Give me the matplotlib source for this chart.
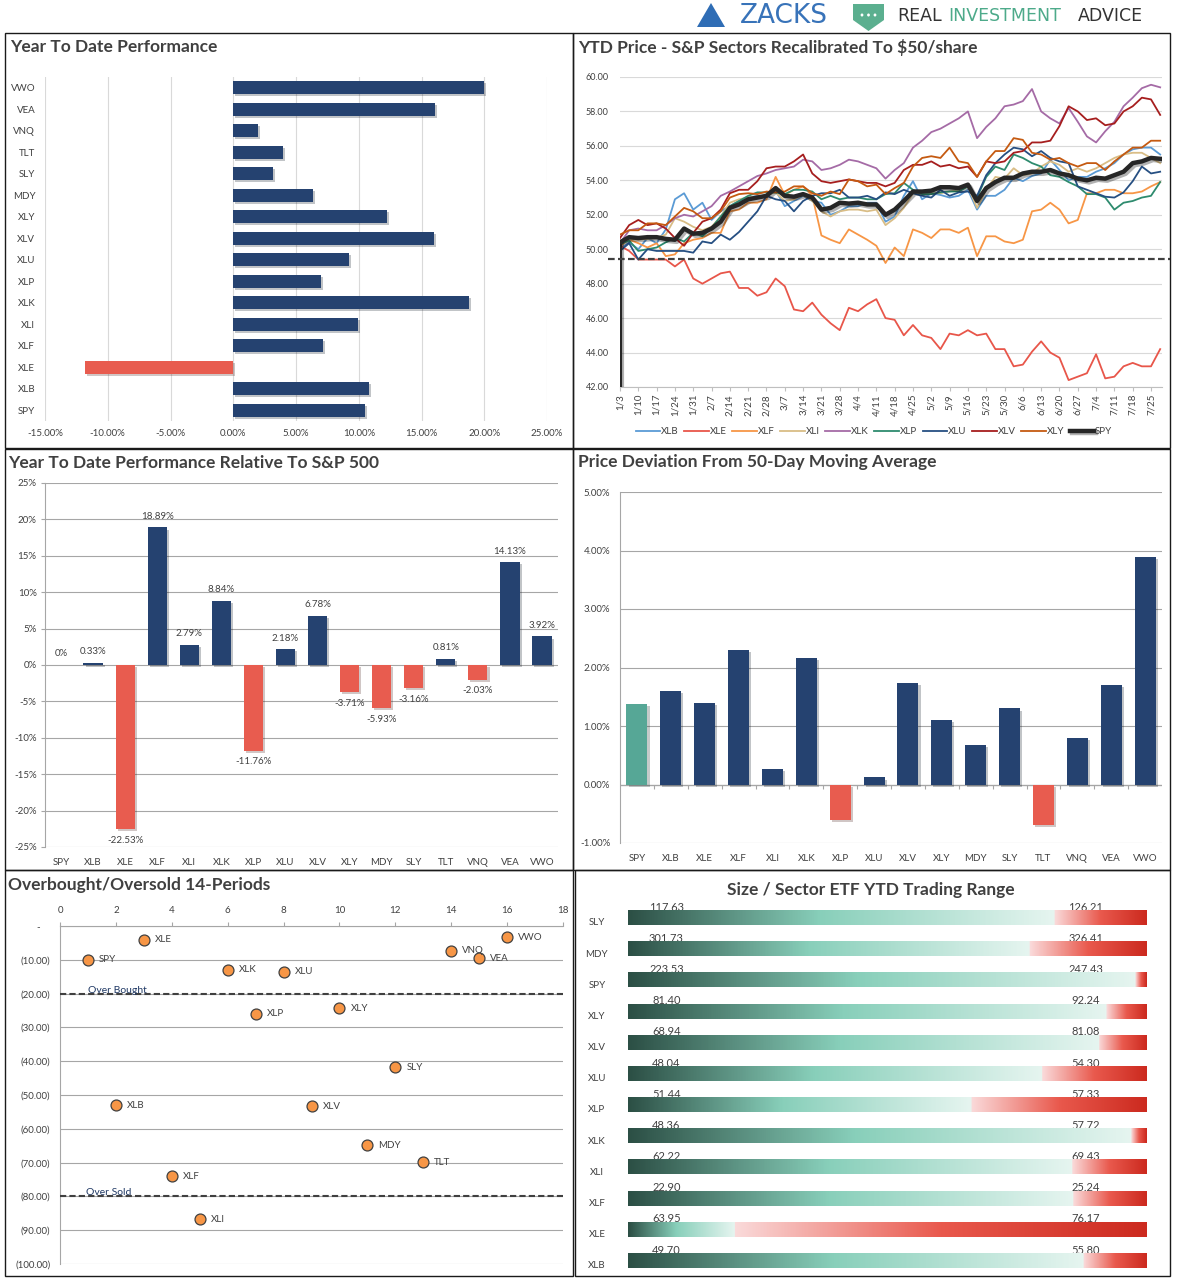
import numpy as np
import matplotlib
matplotlib.use("Agg")
import matplotlib.pyplot as plt
import matplotlib.patheffects as pe
from matplotlib.patches import Rectangle, Polygon, Circle
from matplotlib.colors import LinearSegmentedColormap

plt.rcParams['font.family'] = ['Lato', 'DejaVu Sans']

W, H = 1178, 1284
fig = plt.figure(figsize=(W / 100, H / 100), dpi=100)

NAVY = '#254270'
RED = '#E85C4F'
TXT = '#404040'

# ---------------- data ----------------
tickers = ['SPY', 'XLB', 'XLE', 'XLF', 'XLI', 'XLK', 'XLP', 'XLU',
           'XLV', 'XLY', 'MDY', 'SLY', 'TLT', 'VNQ', 'VEA', 'VWO']

# YTD performance (%)
ytd_perf = [10.47, 10.79, -11.84, 7.13, 9.91, 18.77, 6.96, 9.21,
            15.96, 12.22, 6.35, 3.13, 3.95, 1.96, 16.05, 20.0]

# relative to S&P 500 (%)
rel_perf = [0, 0.33, -22.53, 18.89, 2.79, 8.84, -11.76, 2.18,
            6.78, -3.71, -5.93, -3.16, 0.81, -2.03, 14.13, 3.92]

# deviation from 50 dma (%)
dev_50 = [1.38, 1.60, 1.40, 2.30, 0.26, 2.16, -0.61, 0.12,
          1.74, 1.11, 0.68, 1.30, -0.69, 0.80, 1.70, 3.89]

# overbought / oversold
osc_x = [1, 2, 3, 4, 5, 6, 7, 8, 9, 10, 11, 12, 13, 14, 15, 16]
osc_y = [-10.0, -53.0, -4.1, -74.0, -86.8, -12.9, -25.9, -13.5,
         -53.3, -24.3, -64.9, -41.8, -69.9, -7.3, -9.6, -3.4]

# trading range
range_names = ['SLY', 'MDY', 'SPY', 'XLY', 'XLV', 'XLU', 'XLP', 'XLK', 'XLI', 'XLF', 'XLE', 'XLB']
range_low = [117.63, 301.73, 223.53, 81.40, 68.94, 48.04, 51.44, 48.36, 62.22, 22.90, 63.95, 49.70]
range_high = [126.21, 326.41, 247.43, 92.24, 81.08, 54.30, 57.33, 57.72, 69.43, 25.24, 76.17, 55.80]
range_pos = [0.823, 0.775, 0.979, 0.923, 0.908, 0.799, 0.662, 0.971, 0.857, 0.859, 0.206, 0.879]

# YTD price, recalibrated to $50 (read every half week)
date_labels = ['1/3', '1/10', '1/17', '1/24', '1/31', '2/7', '2/14', '2/21', '2/28', '3/7',
               '3/14', '3/21', '3/28', '4/4', '4/11', '4/18', '4/25', '5/2', '5/9', '5/16',
               '5/23', '5/30', '6/6', '6/13', '6/20', '6/27', '7/4', '7/11', '7/18', '7/25']
weeks = np.arange(0, 30, 0.5)
spy_base = 42.0
px_XLB = [50.0, 50.4, 50.0, 50.65, 50.35, 51.15, 52.9, 53.25, 52.3, 52.7, 51.7, 52.2, 52.5, 52.8, 53.0,
          53.1, 53.1, 53.4, 52.5, 52.8, 53.1, 52.8, 52.7, 52.0, 52.2, 52.5, 52.5, 52.7, 52.7, 51.6,
          51.9, 53.1, 53.95, 52.9, 53.25, 53.15, 53.0, 53.1, 53.45, 52.3, 53.1, 53.1, 53.45, 54.15, 53.95,
          54.25, 54.4, 55.2, 54.6, 54.0, 54.2, 54.2, 54.5, 54.7, 55.0, 55.5, 55.8, 55.9, 55.9, 55.5]
px_XLE = [50.2, 49.9, 49.4, 49.4, 49.4, 49.4, 49.0, 49.4, 48.3, 48.0, 48.3, 48.6, 48.7, 47.75, 47.75,
          47.3, 47.5, 48.3, 47.85, 46.5, 46.4, 46.9, 46.2, 45.7, 45.3, 46.6, 46.4, 46.8, 47.1, 46.0,
          45.9, 45.0, 45.6, 45.0, 44.85, 44.2, 45.1, 45.0, 45.3, 45.0, 45.1, 44.2, 44.2, 43.2, 43.3,
          44.05, 44.65, 44.0, 43.7, 42.4, 42.6, 42.8, 43.9, 42.5, 42.6, 43.2, 43.4, 43.2, 43.2, 44.2]
px_XLF = [50.2, 50.55, 50.35, 50.1, 50.35, 49.6, 49.7, 50.35, 50.55, 50.65, 50.95, 50.95, 52.2, 52.3, 52.7,
          52.7, 52.9, 54.2, 53.15, 53.45, 53.65, 53.1, 50.8, 50.55, 50.35, 51.15, 50.85, 50.55, 50.2, 49.2,
          50.1, 49.6, 51.15, 50.95, 50.65, 51.15, 51.15, 50.95, 51.25, 49.6, 50.75, 50.75, 50.45, 50.35, 50.55,
          52.2, 52.3, 52.7, 52.3, 51.5, 51.7, 53.25, 53.25, 53.45, 53.45, 53.25, 53.25, 53.35, 53.65, 53.9]
px_XLI = [50.45, 50.6, 50.55, 50.6, 50.65, 50.85, 51.8, 51.6, 51.3, 51.1, 51.3, 51.9, 52.7, 52.9, 53.0,
          53.05, 53.15, 53.3, 52.8, 52.9, 53.15, 52.8, 52.2, 51.9, 52.2, 52.3, 52.3, 52.2, 52.3, 51.4,
          51.8, 52.4, 53.25, 53.15, 53.25, 53.25, 53.35, 53.45, 53.65, 52.4, 53.45, 54.2, 54.1, 54.7, 54.3,
          54.4, 54.8, 55.1, 54.9, 54.5, 54.7, 54.5, 54.7, 55.0, 55.3, 55.5, 55.6, 55.6, 55.3, 55.0]
px_XLK = [50.35, 51.1, 51.2, 51.1, 51.1, 51.4, 51.8, 52.0, 51.9, 52.2, 52.5, 53.1, 53.35, 53.65, 53.95,
          54.25, 54.4, 54.6, 54.7, 54.8, 55.2, 55.1, 54.6, 54.7, 54.9, 55.2, 55.1, 54.9, 54.7, 54.1,
          54.6, 55.0, 55.9, 56.3, 56.8, 57.0, 57.3, 57.6, 58.0, 56.45, 57.1, 57.6, 58.3, 58.4, 58.6,
          59.3, 58.0, 57.6, 57.3, 58.2, 57.4, 56.55, 56.2, 56.85, 57.4, 58.3, 58.8, 59.35, 59.55, 59.4]
px_XLP = [50.3, 50.5, 49.9, 50.0, 50.1, 50.4, 50.65, 50.45, 50.95, 50.75, 51.25, 51.9, 52.5, 52.8, 53.1,
          53.3, 53.3, 53.3, 53.2, 53.45, 53.45, 53.35, 52.9, 53.1, 52.9, 53.0, 53.0, 52.9, 52.9, 53.2,
          53.25, 53.85, 53.45, 53.2, 53.2, 53.3, 53.35, 53.35, 53.65, 53.0, 54.2, 54.8, 54.6, 55.5, 55.3,
          55.0, 54.8, 54.3, 54.2, 53.9, 53.65, 53.2, 53.2, 53.0, 52.3, 52.7, 52.8, 53.0, 53.1, 53.9]
px_XLU = [49.9, 50.35, 49.4, 50.0, 49.9, 49.9, 49.9, 49.9, 49.8, 50.45, 50.35, 50.85, 50.55, 51.0, 51.6,
          52.2, 53.1, 52.9, 52.8, 52.2, 52.8, 53.1, 53.25, 53.25, 53.45, 53.0, 53.0, 53.1, 52.9, 53.3,
          53.2, 53.45, 53.25, 53.1, 53.0, 53.45, 53.1, 53.3, 53.35, 53.1, 54.3, 55.0, 55.5, 55.9, 55.8,
          55.4, 55.7, 55.3, 55.1, 55.0, 53.65, 53.45, 53.25, 53.05, 53.0, 53.3, 53.95, 54.8, 54.4, 54.5]
px_XLV = [50.65, 51.4, 51.7, 51.4, 51.5, 51.2, 50.65, 50.2, 50.95, 51.6, 51.8, 52.3, 53.25, 53.45, 53.45,
          53.95, 54.7, 54.8, 54.8, 55.1, 55.5, 54.4, 53.95, 53.85, 53.95, 54.05, 53.95, 53.85, 53.85, 53.65,
          53.85, 54.6, 54.9, 54.9, 55.1, 54.8, 54.9, 54.7, 54.8, 54.2, 55.1, 55.0, 55.1, 55.6, 55.7,
          56.2, 56.2, 56.3, 57.15, 58.3, 58.0, 57.5, 57.6, 57.2, 57.3, 58.0, 58.3, 58.8, 58.7, 57.8]
px_XLY = [50.85, 51.1, 51.1, 51.5, 51.5, 51.4, 51.9, 52.4, 52.2, 51.8, 51.8, 52.2, 53.0, 53.2, 53.25,
          53.2, 53.35, 53.3, 53.35, 53.65, 53.65, 53.25, 53.1, 53.35, 53.2, 54.05, 53.95, 53.65, 53.75, 53.2,
          53.55, 53.85, 54.8, 55.3, 55.4, 55.3, 55.9, 55.1, 55.0, 54.2, 55.1, 55.7, 55.7, 56.45, 56.35,
          55.6, 55.5, 55.2, 55.3, 55.0, 54.8, 55.0, 55.0, 54.6, 55.1, 55.5, 55.9, 55.9, 56.3, 56.3]
px_SPY = [50.4, 50.7, 50.65, 50.7, 50.7, 50.6, 50.55, 51.2, 50.9, 50.95, 51.2, 51.6, 52.4, 52.6, 52.9,
          53.0, 53.1, 53.55, 53.1, 53.05, 53.2, 53.0, 52.3, 52.4, 52.7, 52.65, 52.7, 52.6, 52.6, 52.0,
          52.3, 52.8, 53.35, 53.35, 53.4, 53.6, 53.6, 53.55, 53.75, 52.8, 53.55, 53.9, 54.15, 54.15, 54.4,
          54.5, 54.5, 54.6, 54.4, 54.3, 54.1, 54.0, 54.15, 54.1, 54.3, 54.5, 55.0, 55.1, 55.3, 55.25]
ref_level = 49.45

line_series = [('XLB', px_XLB, '#5B9BD5'), ('XLE', px_XLE, '#E8564A'), ('XLF', px_XLF, '#F79646'),
               ('XLI', px_XLI, '#D9BD86'), ('XLK', px_XLK, '#A56BA6'), ('XLP', px_XLP, '#2E8B6E'),
               ('XLU', px_XLU, '#264F82'), ('XLV', px_XLV, '#A61E1E'), ('XLY', px_XLY, '#C55A11')]


def px_axes(x0, y0, x1, y1):
    return fig.add_axes([x0 / W, 1 - y1 / H, (x1 - x0) / W, (y1 - y0) / H])


def fig_text(x, y, s, **kw):
    return fig.text(x / W, 1 - y / H, s, **kw)


def border(x0, y0, x1, y1):
    fig.add_artist(Rectangle((x0 / W, 1 - y1 / H), (x1 - x0) / W, (y1 - y0) / H,
                             transform=fig.transFigure, fill=False, ec='#1a1a1a', lw=1.0))


shadow = [pe.SimplePatchShadow(offset=(1.5, -1.5), alpha=0.25), pe.Normal()]

# ---------------- header logos ----------------
fig.add_artist(Polygon([(697 / W, 1 - 27 / H), (711 / W, 1 - 3 / H), (725 / W, 1 - 27 / H)],
                       closed=True, transform=fig.transFigure, fc='#2F6DB5', ec='none'))
fig_text(740, 16, 'ZACKS', family='DejaVu Sans', fontsize=19, color='#3873B9', va='center', ha='left')
fig.add_artist(Polygon([(853 / W, 1 - 4 / H), (884 / W, 1 - 4 / H), (884 / W, 1 - 20 / H),
                        (868.5 / W, 1 - 31 / H), (853 / W, 1 - 20 / H)],
                       closed=True, transform=fig.transFigure, fc='#5BAF8F', ec='none'))
for dx in (862, 868.5, 875):
    fig.add_artist(Circle((dx / W, 1 - 15 / H), 1.4 / W, transform=fig.transFigure, fc='white', ec='none'))
fig_text(897, 16, 'REAL', family='DejaVu Sans', fontsize=12.5, color='#333333', va='center')
fig_text(948, 16, 'INVESTMENT', family='DejaVu Sans', fontsize=12.5, color='#4DAA8A', va='center')
fig_text(1078, 16, 'ADVICE', family='DejaVu Sans', fontsize=12.5, color='#333333', va='center')

# ---------------- panel borders ----------------
border(5, 33, 573, 448)
border(573, 33, 1170, 448)
border(5, 449, 573, 870)
border(573, 449, 1170, 870)
border(5, 870, 573, 1276)
border(575, 870, 1170, 1276)

title_kw = dict(fontsize=12.5, weight='bold', color=TXT, va='center')
fig_text(10, 47, 'Year To Date Performance', **title_kw)
fig_text(578, 47, 'YTD Price - S&P Sectors Recalibrated To $50/share', **title_kw)
fig_text(8, 463, 'Year To Date Performance Relative To S&P 500', **title_kw)
fig_text(578, 462, 'Price Deviation From 50-Day Moving Average', **title_kw)
fig_text(8, 885, 'Overbought/Oversold 14-Periods', **title_kw)
fig_text(871, 890, 'Size / Sector ETF YTD Trading Range', ha='center', **title_kw)

# ---------------- panel 1: YTD performance ----------------
ax1 = px_axes(45, 77, 547, 421)
pos = np.arange(len(tickers))
ax1.barh(pos, ytd_perf, height=0.6, color=[NAVY if v >= 0 else RED for v in ytd_perf],
         zorder=3, path_effects=shadow)
ax1.set_xlim(-15, 25)
ax1.set_ylim(-0.5, 15.5)
ax1.set_xticks(np.arange(-15, 26, 5))
ax1.set_xticklabels([f'{v:.2f}%' for v in np.arange(-15, 26, 5)])
ax1.set_yticks(pos)
ax1.set_yticklabels(tickers)
ax1.grid(axis='x', color='#D9D9D9', lw=0.8, zorder=0)
for s in ax1.spines.values():
    s.set_visible(False)
ax1.tick_params(axis='both', length=0, labelsize=7, colors=TXT)
ax1.tick_params(axis='y', pad=7)
ax1.tick_params(axis='x', pad=6)

# ---------------- panel 2: YTD price lines ----------------
ax2 = px_axes(620, 77, 1162, 387)
for name, vals, col in line_series:
    ax2.plot(weeks, vals, color=col, lw=1.3, label=name, zorder=3)
ax2.plot([weeks[0], weeks[0]], [spy_base, px_SPY[0]], color='#262626', lw=3.0, zorder=4,
         path_effects=[pe.SimpleLineShadow(offset=(1.5, -1.5), alpha=0.3), pe.Normal()])
ax2.plot(weeks, px_SPY, color='#262626', lw=3.2, label='SPY', zorder=4,
         path_effects=[pe.SimpleLineShadow(offset=(1.5, -1.5), alpha=0.3), pe.Normal()])
ax2.plot([-0.65, 30.1], [ref_level, ref_level], color='#404040', lw=1.6, ls=(0, (3, 1.5)),
         clip_on=False, zorder=5)
ax2.set_xlim(0, 29.6)
ax2.set_ylim(42, 60)
ax2.set_yticks(np.arange(42, 61, 2))
ax2.set_yticklabels([f'{v:.2f}' for v in np.arange(42, 61, 2)])
ax2.set_xticks(np.arange(30))
ax2.set_xticklabels(date_labels, rotation=90)
ax2.grid(axis='y', color='#D9D9D9', lw=0.8, zorder=0)
for k in ('top', 'right', 'left'):
    ax2.spines[k].set_visible(False)
ax2.spines['bottom'].set_color('#BFBFBF')
ax2.tick_params(axis='y', length=0, labelsize=6.5, colors=TXT, pad=8)
ax2.tick_params(axis='x', length=3, color='#BFBFBF', labelsize=7, colors=TXT, pad=2)
ax2.legend(loc='center', bbox_to_anchor=(874 / W, 1 - 432 / H), bbox_transform=fig.transFigure,
           ncol=10, frameon=False, fontsize=7, handlelength=2.5, columnspacing=0.6,
           handletextpad=0.1, labelcolor=TXT)

# ---------------- panel 3: relative performance ----------------
ax3 = px_axes(45, 483, 558, 847)
ax3.bar(pos, rel_perf, width=0.6, color=[NAVY if v >= 0 else RED for v in rel_perf],
        zorder=3, path_effects=shadow)
for i, v in enumerate(rel_perf):
    lab = '0%' if v == 0 else f'{v:.2f}%'
    ax3.annotate(lab, (i, v), xytext=(0, 8 if v >= 0 else -8), textcoords='offset points',
                 ha='center', va='center', fontsize=7, color=TXT, zorder=5)
ax3.set_xlim(-0.5, 15.5)
ax3.set_ylim(-25, 25)
ax3.set_yticks(np.arange(-25, 26, 5))
ax3.set_yticklabels([f'{v}%' for v in np.arange(-25, 26, 5)])
ax3.set_xticks(pos)
ax3.set_xticklabels(tickers)
ax3.grid(axis='y', color='#A6A6A6', lw=0.8, zorder=0)
for k in ('top', 'right', 'bottom'):
    ax3.spines[k].set_visible(False)
ax3.spines['left'].set_color('#A6A6A6')
ax3.tick_params(axis='y', length=3, color='#A6A6A6', labelsize=7, colors=TXT, pad=3)
ax3.tick_params(axis='x', length=0, labelsize=7, colors=TXT, pad=8)

# ---------------- panel 4: deviation from 50 dma ----------------
ax4 = px_axes(620, 492, 1162, 843)
dev_cols = ['#56A796'] + [NAVY if v >= 0 else RED for v in dev_50[1:]]
ax4.bar(pos, dev_50, width=0.62, color=dev_cols, zorder=3, path_effects=shadow)
ax4.set_xlim(-0.5, 15.5)
ax4.set_ylim(-1, 5)
ax4.set_yticks(np.arange(-1, 6, 1))
ax4.set_yticklabels([f'{v:.2f}%' for v in np.arange(-1, 6, 1)])
ax4.set_xticks(pos)
ax4.set_xticklabels(tickers)
ax4.grid(axis='y', color='#A6A6A6', lw=0.8, zorder=0)
ax4.axhline(0, color='#A6A6A6', lw=0.9, zorder=2)
ax4.vlines(np.arange(0.5, 15.5, 1), -0.07, 0, color='#A6A6A6', lw=0.8, zorder=2)
for k in ('top', 'right', 'bottom'):
    ax4.spines[k].set_visible(False)
ax4.spines['left'].set_color('#A6A6A6')
ax4.tick_params(axis='y', length=0, labelsize=7, colors=TXT, pad=7)
ax4.tick_params(axis='x', length=0, labelsize=7, colors=TXT, pad=8)

# ---------------- panel 5: overbought / oversold ----------------
ax5 = px_axes(60, 926, 563, 1264)
ax5.scatter(osc_x, osc_y, s=62, c='#F79646', edgecolors='#404040', linewidths=0.9, zorder=4)
for name, x, y in zip(tickers, osc_x, osc_y):
    ax5.annotate(name, (x, y), xytext=(8, 0), textcoords='offset points', va='center',
                 fontsize=7, color=TXT, zorder=5)
ax5.axhline(-20, color='#404040', lw=1.5, ls=(0, (3, 1.5)), zorder=3)
ax5.axhline(-80, color='#404040', lw=1.5, ls=(0, (3, 1.5)), zorder=3)
ax5.text(1.0, -19.7, 'Over Bought', color='#1F3864', fontsize=7.5, va='baseline')
ax5.text(0.92, -79.7, 'Over Sold', color='#1F3864', fontsize=7.5, va='baseline')
ax5.set_xlim(0, 18)
ax5.set_ylim(-100, 0)
ax5.set_xticks(np.arange(0, 19, 2))
ax5.set_yticks(np.arange(-100, 1, 10))
ax5.set_yticklabels([f'({abs(v):.2f})' if v < 0 else '-    ' for v in np.arange(-100, 1, 10)])
ax5.xaxis.tick_top()
ax5.grid(axis='y', color='#A6A6A6', lw=0.8, zorder=0)
for k in ('bottom', 'right'):
    ax5.spines[k].set_visible(False)
ax5.spines['left'].set_color('#A6A6A6')
ax5.spines['top'].set_color('#A6A6A6')
ax5.tick_params(axis='y', length=0, labelsize=7, colors=TXT, pad=7)
ax5.tick_params(axis='x', length=3, color='#A6A6A6', labelsize=7, colors=TXT, pad=5)

# ---------------- panel 6: trading range ----------------
ax6 = px_axes(628, 902, 1147, 1276)
green_cm = LinearSegmentedColormap.from_list('g', [(0, '#2C4F45'), (0.45, '#88CFBA'), (1, '#E6F5F0')])
red_cm = LinearSegmentedColormap.from_list('r', [(0, '#FADADA'), (0.5, '#E9594D'), (1, '#CC2A1F')])
n = 500
t = np.linspace(0, 1, n)
for i, (name, lo, hi, b) in enumerate(zip(range_names, range_low, range_high, range_pos)):
    rgb = np.where((t < b)[:, None],
                   green_cm(np.clip(t / b, 0, 1))[:, :3],
                   red_cm(np.clip((t - b) / (1 - b), 0, 1))[:, :3])
    ax6.imshow(rgb[None, :, :], extent=(0, 1, i + 0.24, i - 0.24), aspect='auto',
               interpolation='bilinear', zorder=3)
    ax6.text(0.074, i - 0.33, f'{lo:.2f}', ha='center', va='center', fontsize=8, color=TXT, zorder=2)
    ax6.text(0.882, i - 0.33, f'{hi:.2f}', ha='center', va='center', fontsize=8, color=TXT, zorder=2)
    ax6.text(-0.06, i + 0.17, name, ha='center', va='center', fontsize=7, color=TXT, clip_on=False)
ax6.set_xlim(0, 1)
ax6.set_ylim(11.5, -0.5)
ax6.axis('off')

fig.savefig('out.png', dpi=100, facecolor='white')
